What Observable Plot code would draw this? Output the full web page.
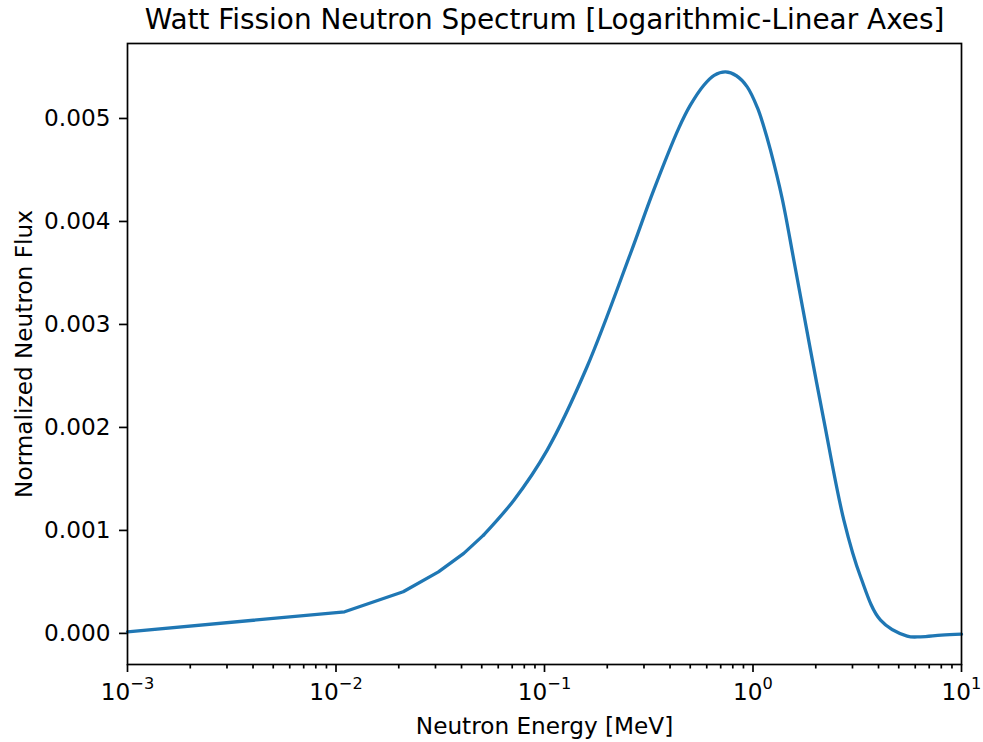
<!DOCTYPE html>
<html>
<head>
<meta charset="utf-8">
<script src="https://cdn.jsdelivr.net/npm/d3@7"></script>
<script src="https://cdn.jsdelivr.net/npm/@observablehq/plot@0.6"></script>
<style>
  html, body { margin: 0; padding: 0; background: #fff; }
  svg { display: block; }
</style>
</head>
<body>
<div id="chart"></div>
<script>
const energy = [0.001, 0.011, 0.021, 0.031, 0.041, 0.051, 0.0713, 0.103, 0.160,
  0.2585, 0.334, 0.4406, 0.5006, 0.581, 0.6512, 0.738, 0.8325, 0.938, 1.0498, 1.127, 1.213,
  1.38, 1.57, 1.887, 2.186, 2.727, 3.28, 4.09, 5.49, 6.36, 8.0, 10.0];
// Normalized neutron flux
const flux = [0.000015, 0.00021, 0.000404, 0.000598, 0.000777, 0.000954, 0.001294, 0.00178,
  0.002589, 0.003689, 0.004304, 0.004906, 0.005129, 0.005323, 0.005419, 0.005452, 0.005415,
  0.005307, 0.005105, 0.00492, 0.004692, 0.004223, 0.003624, 0.002751, 0.002071, 0.0011,
  0.00055, 0.000129, -0.000026, -0.000033, -0.000017, -0.000007];

const xMajorTicks = [0.001, 0.01, 0.1, 1, 10];
const xMajorLabels = ["10^−3", "10^−2", "10^−1", "10^0", "10^1"];
const xMinorTicks = [0.002, 0.003, 0.004, 0.005, 0.006, 0.007, 0.008, 0.009,
  0.02, 0.03, 0.04, 0.05, 0.06, 0.07, 0.08, 0.09,
  0.2, 0.3, 0.4, 0.5, 0.6, 0.7, 0.8, 0.9,
  2, 3, 4, 5, 6, 7, 8, 9];
const yTicks = [0, 0.001, 0.002, 0.003, 0.004, 0.005];
const yTickLabels = ["0.000", "0.001", "0.002", "0.003", "0.004", "0.005"];

const titleText = "Watt Fission Neutron Spectrum [Logarithmic-Linear Axes]";
const xLabelText = "Neutron Energy [MeV]";
const yLabelText = "Normalized Neutron Flux";

const table = energy.map((e, i) => ({e, f: flux[i]}));
const lowPart = table.slice(0, 6);   // coarse linear-spaced samples (visible kinks)
const highPart = table.slice(5);     // smooth part

const lineColor = "#1f77b4";
const fs = 23.2;

const chart = Plot.plot({
  width: 983,
  height: 742,
  marginLeft: 127,
  marginRight: 22,
  marginTop: 43,
  marginBottom: 78,
  style: {fontFamily: "'DejaVu Sans', sans-serif", fontSize: fs + "px", color: "black", background: "white"},
  x: {type: "log", domain: [1e-3, 10], label: null},
  y: {domain: [-0.000302, 0.005728], label: null},
  marks: [
    Plot.axisX(xMinorTicks, {tickSize: 4.5, tickFormat: () => "", strokeWidth: 1.7, label: null}),
    Plot.axisX(xMajorTicks, {tickSize: 8, tickPadding: 11.5, strokeWidth: 1.7, fontSize: fs, label: null,
      tickFormat: d => xMajorLabels[xMajorTicks.indexOf(d)]}),
    Plot.axisY(yTicks, {tickSize: 8, tickPadding: 9, strokeWidth: 1.7, fontSize: fs, label: null,
      tickFormat: d => yTickLabels[yTicks.indexOf(d)]}),
    Plot.line(lowPart, {x: "e", y: "f", stroke: lineColor, strokeWidth: 3.3, strokeLinejoin: "round"}),
    Plot.line(highPart, {x: "e", y: "f", stroke: lineColor, strokeWidth: 3.3, curve: "catmull-rom", strokeLinejoin: "round"}),
    Plot.frame({stroke: "black", strokeWidth: 1.7}),
    Plot.text([titleText], {text: d => d, frameAnchor: "top", textAnchor: "middle", lineAnchor: "bottom", dy: -14.5, fontSize: 27.9}),
    Plot.text([xLabelText], {text: d => d, frameAnchor: "bottom", textAnchor: "middle", lineAnchor: "bottom", dy: 69, fontSize: fs}),
    Plot.text([yLabelText], {text: d => d, frameAnchor: "left", textAnchor: "middle", lineAnchor: "bottom", rotate: -90, dx: -95.5, fontSize: fs})
  ]
});

// render exponents as superscripts
d3.select(chart).selectAll("text").each(function() {
  const s = this.textContent;
  if (!s || !s.includes("^")) return;
  const [base, exp] = s.split("^");
  const t = d3.select(this);
  t.text(null);
  t.append("tspan").text(base);
  t.append("tspan").attr("dy", -11).attr("font-size", "16.2px").text(exp);
});

document.getElementById("chart").appendChild(chart);
</script>
</body>
</html>
